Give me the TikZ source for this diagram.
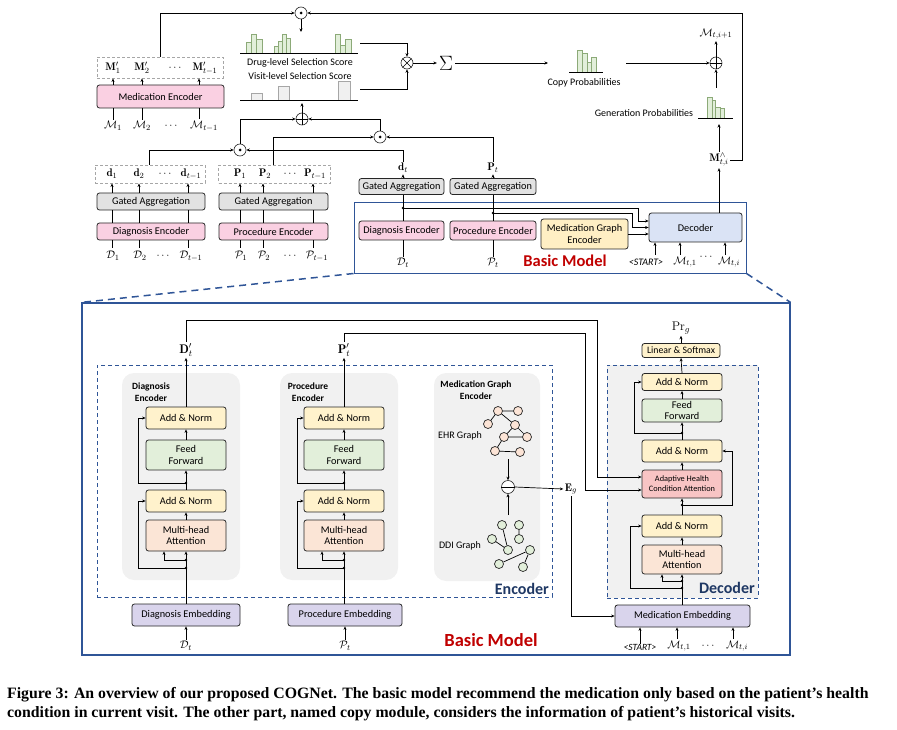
\documentclass[tikz,border=0pt]{standalone}
\usepackage{fontspec}
\setsansfont{Carlito}
\newfontfamily\capfont{Liberation Serif}
\usetikzlibrary{arrows.meta,calc}
\definecolor{pinkc}{RGB}{250,208,226}
\definecolor{greyc}{RGB}{226,226,226}
\definecolor{yelc}{RGB}{255,242,204}
\definecolor{grnc}{RGB}{226,239,218}
\definecolor{orc}{RGB}{251,229,214}
\definecolor{lavc}{RGB}{217,212,236}
\definecolor{decc}{RGB}{218,227,245}
\definecolor{adac}{RGB}{248,196,196}
\definecolor{mgec}{RGB}{255,239,196}
\definecolor{panelc}{RGB}{241,241,241}
\definecolor{framec}{RGB}{47,85,151}
\definecolor{navyc}{RGB}{31,56,100}
\definecolor{redc}{RGB}{192,0,0}
\definecolor{barg}{RGB}{226,239,218}
\definecolor{bard}{RGB}{140,170,120}
\definecolor{ehrc}{RGB}{252,228,214}
\begin{document}
\begin{tikzpicture}[x=1pt,y=-1pt,
  every node/.style={inner sep=0pt},
  box/.style={draw=black!85, line width=0.8pt, rounded corners=2.5pt, align=center, font=\sffamily\fontsize{10.3}{11.5}\selectfont},
  hbox/.style={draw=gray!70, dash pattern=on 3pt off 2pt, line width=0.9pt},
  ml/.style={inner sep=1.5pt, font=\fontsize{11}{13}\selectfont},
  bl/.style={inner sep=1.5pt, font=\fontsize{12.5}{14}\selectfont},
  tl/.style={font=\sffamily\fontsize{10}{12}\selectfont},
  ttl/.style={font=\sffamily\bfseries\fontsize{9.5}{11.5}\selectfont, align=center},
  arr/.style={-{Stealth[length=3.5pt,width=3pt]}, line width=0.7pt},
  ln/.style={line width=0.7pt},
  dotn/.style={circle, fill=black, minimum size=2.8pt},
  op/.style={circle, draw=black!85, line width=0.6pt, minimum size=12pt, fill=white},
  gn/.style={circle, draw=black!85, line width=0.7pt, minimum size=9pt},
  bars/.style={fill=barg, draw=bard, line width=0.5pt},
  barv/.style={fill=gray!12, draw=gray!70, line width=0.6pt},
  dfr/.style={draw=framec, line width=1pt, dash pattern=on 4pt off 3pt},
]
\useasboundingbox (0,0) rectangle (897,730);

% ================= TOP: copy module =================
\node[box, fill=pinkc, minimum width=127pt, minimum height=23pt] (medenc) at (160.5,96.5) {Medication Encoder};
\node[hbox, minimum width=126pt, minimum height=21pt] (mbox) at (160,67.5) {};
\node[ml] (mp1) at (113,68) {$\mathbf{M}_1^{\prime}$};
\node[ml] (mp2) at (142,68) {$\mathbf{M}_2^{\prime}$};
\node[ml] (mpd) at (175,68) {$\cdots$};
\node[ml] (mp3) at (205,68) {$\mathbf{M}_{t-1}^{\prime}$};
\draw[arr] (medenc.north -| mp1) -- (mbox.south -| mp1);
\draw[arr] (medenc.north -| mp2) -- (mbox.south -| mp2);
\draw[arr] ([xshift=-6pt]medenc.north -| mp3) -- ([xshift=-6pt]mbox.south -| mp3);
\node[ml] (M1) at (113,126) {$\mathcal{M}_1$};
\node[ml] (M2) at (142,126) {$\mathcal{M}_2$};
\node[ml] (Md) at (171,126) {$\cdots$};
\node[ml] (M3) at (204,126) {$\mathcal{M}_{t-1}$};
\draw[ln] (medenc.south -| M1) -- (M1.north);
\draw[ln] (medenc.south -| M2) -- (M2.north);
\draw[ln] ([xshift=-5pt]medenc.south -| M3) -- ([xshift=-5pt]M3.north);

% drug-level scores
\foreach \a/\b/\t in {246/251/42, 251/256/34, 256/262/39, 274/278/46, 278/282/41, 282/286/34, 286/290/38, 335/340/34, 340/345/45, 345/351/39}
  \draw[bars] (\a,53) rectangle (\b,\t);
\draw[ln] (240,53) -- (358,53);
\node[tl] (dls) at (300,63) {Drug-level Selection Score};
\node[tl] (vls) at (300,76) {Visit-level Selection Score};
\foreach \a/\b/\t in {251/262/93, 278/289/86, 338/350/81}
  \draw[barv] (\a,100) rectangle (\b,\t);
\draw[ln] (240,100) -- (358,100);

% top product
\node[op] (o1) at (301,13) {};
\fill (o1.center) circle (1.5pt);
\draw[arr] (mbox.north) |- (o1.west);
\draw[arr] (o1.south) -- (301,32);

% times and sum
\node[op] (ox) at (407,63) {};
\draw[line width=0.5pt] (ox.north west) -- (ox.south east) (ox.north east) -- (ox.south west);
\draw[arr] (360,43) -| (ox.north);
\draw[arr] (360,89) -| (ox.south);
\node[font=\fontsize{20}{20}\selectfont] (sig) at (446,63) {$\Sigma$};
\draw[arr] (ox.east) -- ([xshift=-2pt]sig.west);
\draw[arr] ([xshift=2pt]sig.east) -- (548,63);

% copy probabilities
\foreach \a/\b/\t in {577/582/50, 582/587/53, 587/591/62, 591/596/57}
  \draw[bars] (\a,72) rectangle (\b,\t);
\draw[ln] (569,72) -- (603,72);
\node[tl] (cpl) at (584,83) {Copy Probabilities};

% final plus
\node[op] (op2) at (716,63) {};
\draw[line width=0.5pt] (op2.north) -- (op2.south) (op2.west) -- (op2.east);
\draw[arr] (626,63) -- (op2.west);
\node[ml] (mti1) at (716,34) {$\mathcal{M}_{t,i+1}$};
\draw[arr] (op2.north) -- (mti1.south);
\draw[arr] (716,88) -- (op2.south);
\foreach \a/\b/\t in {707/712/97, 712/715/100, 715/720/107, 720/724/108}
  \draw[bars] (\a,118) rectangle (\b,\t);
\draw[ln] (698,118) -- (733,118);
\node[tl] (gpl) at (644,113) {Generation Probabilities};
\node[ml] (mhat) at (719,160) {$\mathbf{M}_{t,i}^{\wedge}$};
\draw[arr] (mhat.north) -- (719,124);
\coordinate (rc) at (742,13);
\draw[arr] (mhat.east) -| (rc) -- (o1.east);

% history diagnosis / procedure
\node[hbox, minimum width=110pt, minimum height=18pt] (dbox) at (150,174) {};
\node[ml] (d1) at (112,174) {$\mathbf{d}_1$};
\node[ml] (d2) at (139,174) {$\mathbf{d}_2$};
\node[ml] (ddots) at (165,174) {$\cdots$};
\node[ml] (d3) at (191,174) {$\mathbf{d}_{t-1}$};
\node[box, fill=greyc, minimum width=108pt, minimum height=17pt] (gaL) at (151,201.5) {Gated Aggregation};
\node[box, fill=pinkc, minimum width=108pt, minimum height=17pt] (deL) at (151,231.5) {Diagnosis Encoder};
\node[ml] (D1) at (113,256) {$\mathcal{D}_1$};
\node[ml] (D2) at (140,256) {$\mathcal{D}_2$};
\node[ml] (Dd) at (163,256) {$\cdots$};
\node[ml] (D3) at (191,256) {$\mathcal{D}_{t-1}$};
\foreach \x in {112,139,188} {
  \draw[arr] (gaL.north -| \x,0) -- (dbox.south -| \x,0);
  \draw[ln] (deL.north -| \x,0) -- (gaL.south -| \x,0);
  \draw[ln] (deL.south -| \x,0) -- (\x,248);
}
\node[hbox, minimum width=112pt, minimum height=18pt] (pbox) at (274.5,174) {};
\node[ml] (p1) at (240,174) {$\mathbf{P}_1$};
\node[ml] (p2) at (265,174) {$\mathbf{P}_2$};
\node[ml] (pdots) at (290,174) {$\cdots$};
\node[ml] (p3) at (315,174) {$\mathbf{P}_{t-1}$};
\node[box, fill=greyc, minimum width=109pt, minimum height=17pt] (gaR) at (273.5,201.5) {Gated Aggregation};
\node[box, fill=pinkc, minimum width=109pt, minimum height=17pt] (peR) at (273.5,231.5) {Procedure Encoder};
\node[ml] (P1) at (241,256) {$\mathcal{P}_1$};
\node[ml] (P2) at (264,256) {$\mathcal{P}_2$};
\node[ml] (Pd) at (290,256) {$\cdots$};
\node[ml] (P3) at (317,256) {$\mathcal{P}_{t-1}$};
\foreach \x in {240,263,313} {
  \draw[arr] (gaR.north -| \x,0) -- (pbox.south -| \x,0);
  \draw[ln] (peR.north -| \x,0) -- (gaR.south -| \x,0);
  \draw[ln] (peR.south -| \x,0) -- (\x,248);
}

% products and sum
\node[op] (oL) at (240,150) {};
\fill (oL.center) circle (1.5pt);
\node[op] (oR) at (380,137) {};
\fill (oR.center) circle (1.5pt);
\node[op] (oM) at (302,119) {};
\draw[line width=0.5pt] (oM.north) -- (oM.south) (oM.west) -- (oM.east);

% ================= small basic model =================
\node[draw=framec, line width=1pt, minimum width=392pt, minimum height=70pt] (bm) at (550,238) {};
\node[box, fill=greyc, minimum width=85pt, minimum height=16pt] (gad) at (401.5,186.5) {Gated Aggregation};
\node[box, fill=greyc, minimum width=86pt, minimum height=16pt] (gap) at (493,186.5) {Gated Aggregation};
\node[box, fill=pinkc, minimum width=85pt, minimum height=19pt] (ded) at (401.5,230.5) {Diagnosis Encoder};
\node[box, fill=pinkc, minimum width=86pt, minimum height=19pt] (pep) at (493,230.5) {Procedure Encoder};
\node[box, fill=mgec, minimum width=87pt, minimum height=30pt] (mge) at (584.5,234) {Medication Graph\\Encoder};
\node[box, fill=decc, minimum width=93pt, minimum height=29pt] (dec) at (695.5,227.5) {Decoder};
\node[ml] (dt) at (403,168) {$\mathbf{d}_t$};
\node[ml] (pt) at (493,168) {$\mathbf{P}_t$};
\draw[arr] (gad.north -| dt) -- (dt.south);
\draw[arr] (gap.north -| pt) -- (pt.south);
\draw[ln] (ded.north -| dt) -- (gad.south -| dt);
\draw[ln] (pep.north -| pt) -- (gap.south -| pt);
\node[dotn] (dd1) at (403,208) {};
\node[dotn] (dd2) at (493,213) {};
\draw[arr] (dd1.center) -- (638,208) |- ([yshift=6.5pt]dec.west);
\draw[arr] (dd2.center) -- (632,213) |- (dec.west);
\draw[arr] (mge.east) -- (mge.east -| dec.west);
\node[ml] (Dts) at (403,263) {$\mathcal{D}_t$};
\node[ml] (Pts) at (493,263) {$\mathcal{P}_t$};
\draw[ln] (ded.south -| dt) -- (Dts.north);
\draw[ln] (pep.south -| pt) -- (Pts.north);
\node[font=\sffamily\bfseries\fontsize{16.5}{16.5}\selectfont, text=redc] (bml) at (565,261) {Basic Model};
\node[font=\sffamily\itshape\fontsize{10}{12}\selectfont] (st1) at (646,262) {<START>};
\node[ml] (mt1) at (685,262) {$\mathcal{M}_{t,1}$};
\node[ml] (mtd) at (706,257) {$\cdots$};
\node[ml] (mt2) at (729,262) {$\mathcal{M}_{t,i}$};
\draw[arr] (655,255) -- (dec.south -| 655,0);
\draw[arr] (680,255) -- (dec.south -| 680,0);
\draw[arr] (725,255) -- (dec.south -| 725,0);
\draw[arr] (dec.north -| mhat) -- (mhat.south);

% products connections
\draw[arr] ([xshift=-1pt]dbox.north) |- (oL.west);
\draw[arr] ([xshift=-1.5pt]pbox.north) |- (oR.west);
\draw[arr] (dt.north) |- (oL.east);
\draw[arr] (pt.north) |- (oR.east);
\draw[arr] (oL.north) |- (oM.west);
\draw[arr] (oR.north) |- (oM.east);
\draw[arr] (oM.north) -- (302,103);

% ================= big basic model =================
\node[draw=framec, line width=1.2pt, minimum width=708pt, minimum height=352pt] (big) at (436,479) {};
\draw[framec, line width=1.5pt, dash pattern=on 7pt off 5pt] (bm.south west) -- (big.north west);
\draw[framec, line width=1.5pt, dash pattern=on 7pt off 5pt] (bm.south east) -- (big.north east);

\node[dfr, minimum width=455pt, minimum height=232pt] (encf) at (324.5,481) {};
\node[dfr, fill=panelc, minimum width=151pt, minimum height=233pt] (decf) at (682.5,481.5) {};
\fill[panelc, rounded corners=12pt] (122,373) rectangle (240,580);
\fill[panelc, rounded corners=12pt] (280,373) rectangle (398,580);
\fill[panelc, rounded corners=12pt] (434,373) rectangle (540,581);
\node[anchor=base east, font=\sffamily\bfseries\fontsize{16}{16}\selectfont, text=navyc] (encl) at (549,594) {Encoder};
\node[anchor=base east, font=\sffamily\bfseries\fontsize{16}{16}\selectfont, text=navyc] (decl) at (755,593) {Decoder};
\node[font=\sffamily\bfseries\fontsize{18.5}{18.5}\selectfont, text=redc] (bml2) at (491,640) {Basic Model};

% diagnosis encoder
\node[ttl] (dtt) at (151,392) {Diagnosis\\Encoder};
\node[box, fill=yelc, minimum width=80pt, minimum height=22pt] (an1) at (186,418) {Add \& Norm};
\node[box, fill=grnc, minimum width=80pt, minimum height=30pt] (ff1) at (186,455) {Feed\\Forward};
\node[box, fill=yelc, minimum width=80pt, minimum height=22pt] (an2) at (186,501) {Add \& Norm};
\node[box, fill=orc, minimum width=80pt, minimum height=31pt] (mh1) at (186,535.5) {Multi-head\\Attention};
\node[box, fill=lavc, minimum width=108pt, minimum height=22pt] (emb1) at (186,615) {Diagnosis Embedding};
\node[ml] (Dtb) at (186,646) {$\mathcal{D}_t$};
\node[bl] (Dp) at (186,350) {$\mathbf{D}_t^{\prime}$};
\draw[arr] (Dtb.north) -- (emb1.south);
\draw[arr] (emb1.north) -- (mh1.south);
\node[dotn] (a1) at (186,560) {};
\node[dotn] (a2) at (186,568) {};
\node[dotn] (a3) at (186,483) {};
\draw[arr] (a1.center) -| ([xshift=-22pt]mh1.south);
\draw[arr] (a2.center) -- (138,568) |- (an2.west);
\draw[arr] (mh1.north) -- (an2.south);
\draw[arr] (an2.north) -- (ff1.south);
\draw[arr] (a3.center) -- (138,483) |- (an1.west);
\draw[arr] (ff1.north) -- (an1.south);
\draw[arr] (an1.north) -- (Dp.south);

% procedure encoder
\node[ttl] (ptt) at (308,392) {Procedure\\Encoder};
\node[box, fill=yelc, minimum width=80pt, minimum height=22pt] (bn1) at (344,418) {Add \& Norm};
\node[box, fill=grnc, minimum width=80pt, minimum height=30pt] (gf1) at (344,455) {Feed\\Forward};
\node[box, fill=yelc, minimum width=80pt, minimum height=22pt] (bn2) at (344,501) {Add \& Norm};
\node[box, fill=orc, minimum width=80pt, minimum height=31pt] (nh1) at (344,535.5) {Multi-head\\Attention};
\node[box, fill=lavc, minimum width=114pt, minimum height=22pt] (emb2) at (345,615) {Procedure Embedding};
\node[ml] (Ptb) at (345,646) {$\mathcal{P}_t$};
\node[bl] (Pp) at (344,350) {$\mathbf{P}_t^{\prime}$};
\draw[arr] (Ptb.north) -- (emb2.south);
\draw[arr] (emb2.north -| nh1) -- (nh1.south);
\node[dotn] (c1) at (344,560) {};
\node[dotn] (c2) at (344,568) {};
\node[dotn] (c3) at (344,483) {};
\draw[arr] (c1.center) -| ([xshift=-22pt]nh1.south);
\draw[arr] (c2.center) -- (297,568) |- (bn2.west);
\draw[arr] (nh1.north) -- (bn2.south);
\draw[arr] (bn2.north) -- (gf1.south);
\draw[arr] (c3.center) -- (297,483) |- (bn1.west);
\draw[arr] (gf1.north) -- (bn1.south);
\draw[arr] (bn1.north) -- (Pp.south);

% medication graph encoder
\node[ttl] (mtt) at (476,390) {Medication Graph\\Encoder};
\node[tl] (ehrl) at (460,436) {EHR Graph};
\node[tl] (ddil) at (460,546) {DDI Graph};
\node[gn, fill=ehrc] (e1) at (498,411) {};
\node[gn, fill=ehrc] (e2) at (518,411) {};
\node[gn, fill=ehrc] (e3) at (488,424) {};
\node[gn, fill=ehrc] (e4) at (515,425) {};
\node[gn, fill=ehrc] (e5) at (504,437) {};
\node[gn, fill=ehrc] (e6) at (527,437) {};
\node[gn, fill=ehrc] (e7) at (495,451) {};
\node[gn, fill=ehrc] (e8) at (520,452) {};
\draw[ln] (e1) -- (e2) (e1) -- (e3) (e1) -- (e4) (e4) -- (e5) (e4) -- (e6) (e5) -- (e6) (e5) -- (e7) (e7) -- (e8);
\node[gn, fill=barg] (g1) at (502,525) {};
\node[gn, fill=barg] (g2) at (519,525) {};
\node[gn, fill=barg] (g3) at (492,539) {};
\node[gn, fill=barg] (g4) at (519,539) {};
\node[gn, fill=barg] (g5) at (508,550) {};
\node[gn, fill=barg] (g6) at (530,550) {};
\node[gn, fill=barg] (g7) at (499,564) {};
\node[gn, fill=barg] (g8) at (523,567) {};
\draw[ln] (g1) -- (g5) (g3) -- (g5) (g2) -- (g4) (g7) -- (g6) (g6) -- (g8);
\node[op, minimum size=13pt] (om) at (508,487) {};
\draw[line width=0.6pt] (om.west) -- (om.east);
\draw[arr] (508,459) -- (om.north);
\draw[arr] (508,515) -- (om.south);
\node[ml] (Eg) at (571,489) {$\mathbf{E}_g$};
\draw[arr] (om.east) -- (Eg.west);

% decoder
\node[bl] (Prg) at (681,328) {$\mathrm{Pr}_g$};
\node[box, fill=yelc, minimum width=78pt, minimum height=14pt, font=\sffamily\fontsize{9.8}{11}\selectfont] (ls) at (681,350.5) {Linear \& Softmax};
\node[box, fill=yelc, minimum width=80pt, minimum height=17pt] (dan3) at (682,382) {Add \& Norm};
\node[box, fill=grnc, minimum width=80pt, minimum height=23pt, font=\sffamily\fontsize{10.3}{10.5}\selectfont] (dff) at (682,410.5) {Feed\\Forward};
\node[box, fill=yelc, minimum width=80pt, minimum height=22pt] (dan2) at (682,451) {Add \& Norm};
\node[box, fill=adac, minimum width=80pt, minimum height=28pt, font=\sffamily\fontsize{8.3}{10}\selectfont] (ada) at (682,484) {Adaptive Health\\Condition Attention};
\node[box, fill=yelc, minimum width=80pt, minimum height=22pt] (dan1) at (682,526) {Add \& Norm};
\node[box, fill=orc, minimum width=80pt, minimum height=29pt] (dmh) at (682,559.5) {Multi-head\\Attention};
\node[box, fill=lavc, minimum width=135pt, minimum height=22pt] (memb) at (682.5,616) {Medication Embedding};
\node[font=\sffamily\itshape\fontsize{9.5}{11}\selectfont] (st2) at (640,647) {<START>};
\node[ml] (m21) at (679,646) {$\mathcal{M}_{t,1}$};
\node[ml] (m2d) at (708,646) {$\cdots$};
\node[ml] (m22) at (737,646) {$\mathcal{M}_{t,i}$};
\draw[arr] (st2.north) -- (st2.north |- memb.south);
\draw[arr] ([xshift=-2pt]m21.north) -- ([xshift=-2pt]m21.north |- memb.south);
\draw[arr] ([xshift=-4pt]m22.north) -- ([xshift=-4pt]m22.north |- memb.south);
\draw[arr] (memb.north -| dmh) -- (dmh.south);
\node[dotn] (b1) at (682,581) {};
\node[dotn] (b2) at (682,588) {};
\node[dotn] (b3) at (682,505) {};
\node[dotn] (b4) at (682,433) {};
\draw[arr] (b1.center) -| ([xshift=-20pt]dmh.south);
\draw[arr] (b2.center) -- (630,588) |- (dan1.west);
\draw[arr] (dmh.north) -- (dan1.south);
\draw[arr] (dan1.north) -- (ada.south);
\draw[arr] (b3.center) -- (732,505) |- (dan2.east);
\draw[arr] (ada.north) -- (dan2.south);
\draw[arr] (dan2.north) -- (dff.south);
\draw[arr] (b4.center) -- (634,433) |- (dan3.west);
\draw[arr] (dff.north) -- (dan3.south);
\draw[arr] (dan3.north) -- (ls.south);
\draw[arr] (ls.north) -- (Prg.south);

% cross connections
\draw[arr] (Dp.north) |- (597,320) |- ([yshift=7pt]ada.west);
\draw[arr] (Pp.north) |- (585,333) |- ([yshift=-6pt]ada.west);
\draw[arr] (Eg.south) |- (memb.west);

% caption
\node[anchor=base west, font=\capfont\bfseries\fontsize{15.8}{18}\selectfont] (cap1) at (7,698) {Figure 3: An overview of our proposed COGNet. The basic model recommend the medication only based on the patient’s health};
\node[anchor=base west, font=\capfont\bfseries\fontsize{15.8}{18}\selectfont] (cap2) at (7,717) {condition in current visit. The other part, named copy module, considers the information of patient’s historical visits.};
\end{tikzpicture}
\end{document}
